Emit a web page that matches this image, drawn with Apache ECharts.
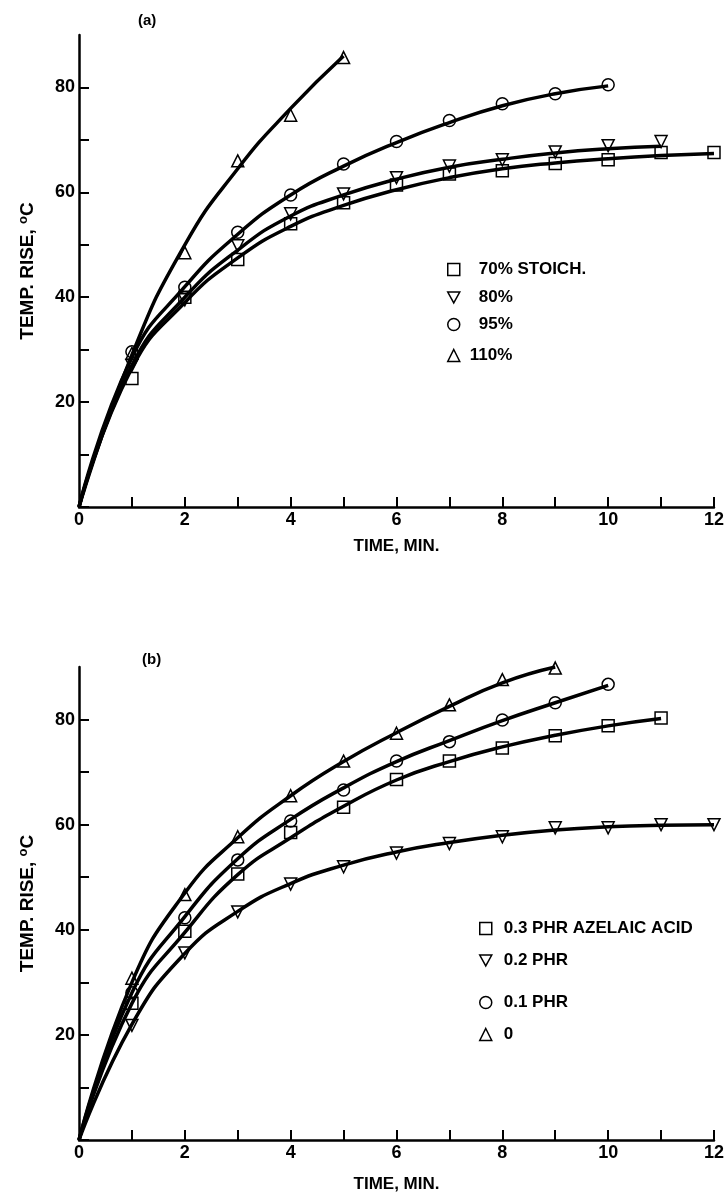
<!DOCTYPE html>
<html>
<head>
<meta charset="utf-8">
<script src="https://cdn.jsdelivr.net/npm/echarts@6/dist/echarts.min.js"></script>
<style>
  html, body { margin: 0; padding: 0; background: #fff; }
  #chart { width: 727px; height: 1197px; }
</style>
</head>
<body>
<div id="chart"></div>
<script>
// time axis (minutes); curves start at 0, measured points start at 1
const time = [0, 1, 2, 3, 4, 5, 6, 7, 8, 9, 10, 11, 12];

// (a) stoichiometry - fitted curves
const fit70 = [0, 26.5, 39, 47.5, 53.5, 57.5, 60.5, 62.8, 64.5, 65.6, 66.4, 67, 67.4];
const fit80 = [0, 27, 40, 49, 55.5, 59.5, 62.5, 64.8, 66.3, 67.5, 68.3, 68.8];
const fit95 = [0, 28.5, 42, 52, 59.5, 65, 69.5, 73.3, 76.5, 78.8, 80.3];
const fit110 = [0, 29, 50, 64.5, 76, 86];
// (a) measured points
const pts70 = [24.5, 40, 47.2, 54, 58, 61.4, 63.5, 64.1, 65.5, 66.2, 67.6, 67.6];
const pts80 = [27, 39.5, 49.8, 55.9, 59.7, 62.8, 65, 66.2, 67.7, 68.9, 69.7];
const pts95 = [29.6, 41.9, 52.4, 59.5, 65.4, 69.7, 73.7, 76.9, 78.8, 80.5];
const pts110 = [29.3, 48.5, 66, 74.7, 85.7];

// (b) azelaic acid - fitted curves
const fit03 = [0, 26, 39.5, 50.5, 57.5, 63.5, 68.5, 72, 74.8, 77, 78.8, 80.2];
const fit02 = [0, 22, 35.5, 43.5, 48.8, 52.3, 54.8, 56.6, 58, 59, 59.6, 59.9, 60];
const fit01 = [0, 28, 42.5, 53.5, 61, 67, 72, 76, 79.8, 83.2, 86.5];
const fit00 = [0, 30, 47, 57.5, 65.5, 72, 77.5, 82.5, 87, 90];
// (b) measured points
const pts03 = [26, 39.7, 50.6, 58.5, 63.3, 68.6, 72.1, 74.6, 76.9, 78.8, 80.3];
const pts02 = [21.8, 35.6, 43.4, 48.7, 52, 54.6, 56.4, 57.7, 59.4, 59.4, 60, 60];
const pts01 = [28, 42.3, 53.3, 60.7, 66.6, 72.1, 75.8, 79.9, 83.2, 86.7];
const pts00 = [30.8, 46.7, 57.7, 65.5, 72.1, 77.4, 82.8, 87.6, 89.8];

const xLabels = [0, 2, 4, 6, 8, 10, 12];
const xTicks = [1, 2, 3, 4, 5, 6, 7, 8, 9, 10, 11, 12];
const yLabels = [20, 40, 60, 80];
const yTicks = [0, 10, 20, 30, 40, 50, 60, 70, 80];

const FONT = "Liberation Sans, Arial, sans-serif";
const downTri = "path://M0,0 L10,0 L5,9 Z";

function curve(vals, idx) {
  return {
    type: "line",
    xAxisIndex: idx,
    yAxisIndex: idx,
    data: vals.map((v, i) => [time[i], v]),
    smooth: true,
    showSymbol: false,
    lineStyle: { color: "#000", width: 3.5 },
    emphasis: { disabled: true },
    silent: true,
  };
}

function points(name, vals, idx, symbol, rotate) {
  return {
    name: name,
    type: "scatter",
    xAxisIndex: idx,
    yAxisIndex: idx,
    data: vals.map((v, i) => [time[i + 1], v]),
    symbol: symbol,
    symbolSize: 12,
    symbolRotate: rotate || 0,
    itemStyle: { color: "rgba(255,255,255,0)", borderColor: "#000", borderWidth: 1.5, opacity: 1 },
    emphasis: { disabled: true },
    z: 3,
  };
}

function xAxis(idx, gap) {
  return {
    type: "value",
    gridIndex: idx,
    min: 0,
    max: 12,
    interval: 1,
    name: "TIME, MIN.",
    nameLocation: "middle",
    nameGap: gap,
    nameTextStyle: { fontFamily: FONT, fontWeight: "bold", fontSize: 17, color: "#000" },
    axisLine: { lineStyle: { color: "#000", width: 2.5 } },
    axisTick: { inside: true, length: 10, lineStyle: { color: "#000", width: 2 }, customValues: xTicks },
    axisLabel: { margin: 4, fontFamily: FONT, fontWeight: "bold", fontSize: 18, color: "#000", customValues: xLabels },
    splitLine: { show: false },
  };
}

function yAxis(idx) {
  return {
    type: "value",
    gridIndex: idx,
    min: 0,
    max: 90,
    interval: 10,
    name: "TEMP. RISE, {sup|o}C",
    nameLocation: "middle",
    nameGap: 40,
    nameTextStyle: {
      fontFamily: FONT, fontWeight: "bold", fontSize: 19, color: "#000",
      rich: { sup: { fontFamily: FONT, fontWeight: "bold", fontSize: 13, color: "#000", padding: [0, 0, 9, 0] } },
    },
    axisLine: { show: true, lineStyle: { color: "#000", width: 2.5 } },
    axisTick: { show: true, inside: true, length: 10, lineStyle: { color: "#000", width: 2 }, customValues: yTicks },
    axisLabel: { margin: 4, fontFamily: FONT, fontWeight: "bold", fontSize: 18, color: "#000", customValues: yLabels },
    splitLine: { show: false },
  };
}

function legendItem(name, icon, left, top, pad) {
  return {
    data: [{ name: name, icon: icon }],
    left: left,
    top: top,
    orient: "vertical",
    itemWidth: 12,
    itemHeight: 12,
    selectedMode: false,
    itemStyle: { color: "#fff", borderColor: "#000", borderWidth: 1.5 },
    textStyle: { fontFamily: FONT, fontWeight: "bold", fontSize: 17, color: "#000", padding: [0, 0, 0, pad] },
  };
}

const chart = echarts.init(document.getElementById("chart"));
chart.setOption({
  backgroundColor: "#fff",
  animation: false,
  title: [
    { text: "(a)", left: 133, top: 8, textStyle: { fontFamily: FONT, fontWeight: "bold", fontSize: 15, color: "#000" } },
    { text: "(b)", left: 137, top: 647, textStyle: { fontFamily: FONT, fontWeight: "bold", fontSize: 15, color: "#000" } },
  ],
  grid: [
    { left: 79, top: 35, width: 635, height: 472 },
    { left: 79, top: 667, width: 636, height: 473 },
  ],
  xAxis: [xAxis(0, 31), xAxis(1, 36)],
  yAxis: [yAxis(0), yAxis(1)],
  legend: [
    legendItem("70% STOICH.", "rect", 442, 256, 14),
    legendItem("80%", downTri, 442, 284, 14),
    legendItem("95%", "circle", 442, 311, 14),
    legendItem("110%", "triangle", 442, 342, 5),
    legendItem("0.3 PHR AZELAIC ACID", "rect", 474, 915, 7),
    legendItem("0.2 PHR", downTri, 474, 947, 7),
    legendItem("0.1 PHR", "circle", 474, 989, 7),
    legendItem("0", "triangle", 474, 1021, 7),
  ],
  series: [
    curve(fit70, 0),
    curve(fit80, 0),
    curve(fit95, 0),
    curve(fit110, 0),
    points("70% STOICH.", pts70, 0, "rect"),
    points("80%", pts80, 0, "triangle", 180),
    points("95%", pts95, 0, "circle"),
    points("110%", pts110, 0, "triangle"),
    curve(fit03, 1),
    curve(fit02, 1),
    curve(fit01, 1),
    curve(fit00, 1),
    points("0.3 PHR AZELAIC ACID", pts03, 1, "rect"),
    points("0.2 PHR", pts02, 1, "triangle", 180),
    points("0.1 PHR", pts01, 1, "circle"),
    points("0", pts00, 1, "triangle"),
  ],
});
</script>
</body>
</html>
